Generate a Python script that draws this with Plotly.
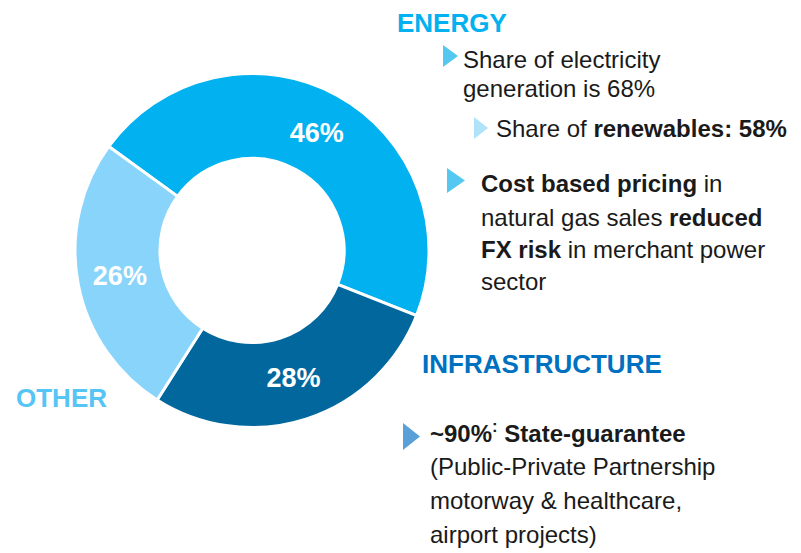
import plotly.graph_objects as go

# ---- data ----
categories = ["ENERGY", "INFRASTRUCTURE", "OTHER"]
values = [46, 28, 26]
slice_colors = ["#02B1EF", "#02679D", "#88D4FA"]

W, H = 801, 553
FONT = "Liberation Sans, Arial, sans-serif"

def px(x, y):
    return x / W, 1 - y / H

fig = go.Figure()
fig.add_trace(go.Pie(
    labels=categories,
    values=values,
    sort=False,
    direction="clockwise",
    rotation=-54,
    hole=0.52,
    marker=dict(colors=slice_colors, line=dict(color="white", width=3)),
    texttemplate="<b>%{value}%</b>",
    textposition="inside",
    insidetextorientation="horizontal",
    textfont=dict(color="white", size=27, family=FONT),
    showlegend=False,
    hoverinfo="label+percent",
    domain=dict(x=[75 / W, 429 / W], y=[1 - 428 / H, 1 - 73 / H]),
))

annotations = []

def txt(x, baseline, text, size=24, color="#1a1a1a"):
    xx, _ = px(x, 0)
    _, yy = px(0, baseline - 0.3465 * size)
    annotations.append(dict(
        x=xx, y=yy, xref="paper", yref="paper", text=text,
        showarrow=False, xanchor="left", yanchor="middle",
        font=dict(size=size, color=color, family=FONT),
        borderpad=0, borderwidth=0,
    ))

BODY = 24
# headings
txt(397, 32, "<b>ENERGY</b>", 26, "#02B1EF")
txt(422, 373, "<b>INFRASTRUCTURE</b>", 26, "#0070C0")
txt(16, 407, "<b>OTHER</b>", 26, "#55C5F5")

# energy bullets
txt(463, 68, "Share of electricity", BODY)
txt(463, 97, "generation is 68%", BODY)
txt(496, 137, "Share of <b>renewables: 58%</b>", BODY)
txt(481, 192, "<b>Cost based pricing</b> in", BODY)
txt(481, 226, "natural gas sales <b>reduced</b>", BODY)
txt(481, 258, "<b>FX risk</b> in merchant power", BODY)
txt(481, 290, "sector", BODY)

# infrastructure bullets
txt(430, 440, "<b>~90%<sup>:</sup> State-guarantee</b>", BODY)
txt(430, 475, "(Public-Private Partnership", BODY)
txt(430, 509, "motorway &amp; healthcare,", BODY)
txt(430, 543, "airport projects)", BODY)

shapes = []

def tri(x0, y0, x1, y1, color):
    ax, ay = px(x0, y0)
    bx, by = px(x0, y1)
    cx, cy = px(x1, (y0 + y1) / 2)
    shapes.append(dict(type="path", xref="paper", yref="paper",
                       path=f"M {ax} {ay} L {bx} {by} L {cx} {cy} Z",
                       fillcolor=color, line=dict(width=0)))

tri(443, 45, 458, 67, "#55C8F2")
tri(474, 117, 488, 139, "#B0E2FA")
tri(447, 168, 465, 193, "#55C8F2")
tri(403, 423, 420, 450, "#5AA0D8")

fig.update_layout(
    width=W, height=H,
    margin=dict(l=0, r=0, t=0, b=0),
    paper_bgcolor="white", plot_bgcolor="white",
    annotations=annotations, shapes=shapes,
)

fig.write_html(
    "out.html",
    config={"displayModeBar": False},
    post_script="document.body.style.margin='0';document.body.style.overflow='hidden';",
)
